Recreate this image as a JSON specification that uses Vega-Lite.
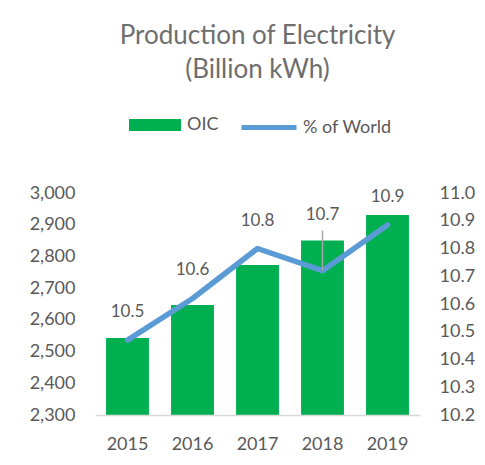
{
  "$schema": "https://vega.github.io/schema/vega-lite/v6.json",
  "autosize": "none",
  "width": 325,
  "height": 222,
  "padding": {"left": 95, "top": 193, "right": 65, "bottom": 50},
  "background": "#ffffff",
  "config": {
    "font": "Lato",
    "view": {"stroke": null},
    "axis": {"labelColor": "#595959", "labelFont": "Lato", "labelFontSize": 18, "grid": false, "ticks": false, "title": null, "labelOverlap": false}
  },
  "title": {
    "text": ["Production of Electricity", "(Billion kWh)"],
    "font": "Lato",
    "fontSize": 26,
    "fontWeight": "normal",
    "color": "#6e6e6e",
    "lineHeight": 34,
    "anchor": "middle",
    "frame": "group",
    "offset": 15
  },
  "data": {
    "values": [
      {"year": "2015", "oic": 2543, "pct": 10.47},
      {"year": "2016", "oic": 2647, "pct": 10.62},
      {"year": "2017", "oic": 2773, "pct": 10.80},
      {"year": "2018", "oic": 2850, "pct": 10.72},
      {"year": "2019", "oic": 2931, "pct": 10.885}
    ]
  },
  "encoding": {
    "x": {
      "field": "year",
      "type": "ordinal",
      "scale": {"paddingInner": 0.34, "paddingOuter": 0.17},
      "axis": {"labelAngle": 0, "domain": true, "domainColor": "#d9d9d9", "domainWidth": 1.5, "labelPadding": 20, "zindex": 1}
    }
  },
  "layer": [
    {
      "mark": {"type": "bar", "clip": true},
      "encoding": {
        "y": {
          "field": "oic",
          "type": "quantitative",
          "scale": {"domain": [2300, 3000], "zero": false, "nice": false},
          "axis": {"orient": "left", "domain": false, "values": [2300, 2400, 2500, 2600, 2700, 2800, 2900, 3000], "format": ",.0f", "labelPadding": 20, "labelOverlap": false}
        },
        "fill": {
          "datum": "OIC",
          "scale": {"domain": ["OIC"], "range": ["#00B050"]},
          "legend": {
            "orient": "none",
            "legendX": 34,
            "legendY": -94,
            "title": null,
            "symbolType": "M-1,-0.23H1V0.23H-1Z",
            "symbolSize": 2704,
            "symbolStrokeWidth": 0,
            "labelFont": "Lato",
            "labelFontSize": 18,
            "labelColor": "#595959",
            "labelOffset": 6
          }
        }
      }
    },
    {
      "layer": [
        {
          "mark": {"type": "line", "strokeWidth": 5.5, "strokeCap": "round", "strokeJoin": "round"},
          "encoding": {
            "y": {
              "field": "pct",
              "type": "quantitative",
              "scale": {"domain": [10.2, 11.0], "zero": false, "nice": false},
              "axis": {"orient": "right", "domain": false, "values": [10.2, 10.3, 10.4, 10.5, 10.6, 10.7, 10.8, 10.9, 11.0], "format": ".1f", "labelPadding": 19, "labelOverlap": false, "tickCount": 9}
            },
            "stroke": {
              "datum": "% of World",
              "scale": {"domain": ["% of World"], "range": ["#5B9BD5"]},
              "legend": {
                "orient": "none",
                "legendX": 144,
                "legendY": -95.5,
                "title": null,
                "symbolType": "M-1,0H1",
                "symbolSize": 3025,
                "symbolStrokeWidth": 5,
                "labelFont": "Lato",
                "labelFontSize": 18,
                "labelColor": "#595959",
                "labelOffset": 4
              }
            }
          }
        },
        {
          "transform": [{"filter": "datum.year == '2018'"}],
          "mark": {"type": "rule", "color": "#a6a6a6", "strokeWidth": 1.5},
          "encoding": {
            "y": {"field": "pct", "type": "quantitative"},
            "y2": {"datum": 10.865}
          }
        },
        {
          "transform": [{"filter": "datum.year != '2018'"}],
          "mark": {"type": "text", "dy": -28, "fontSize": 17, "font": "Lato", "color": "#595959", "baseline": "middle"},
          "encoding": {
            "y": {"field": "pct", "type": "quantitative"},
            "text": {"field": "pct", "type": "quantitative", "format": ".1f"}
          }
        },
        {
          "transform": [{"filter": "datum.year == '2018'"}],
          "mark": {"type": "text", "dy": -56, "fontSize": 17, "font": "Lato", "color": "#595959", "baseline": "middle"},
          "encoding": {
            "y": {"field": "pct", "type": "quantitative"},
            "text": {"field": "pct", "type": "quantitative", "format": ".1f"}
          }
        }
      ]
    }
  ],
  "resolve": {"scale": {"y": "independent"}}
}
